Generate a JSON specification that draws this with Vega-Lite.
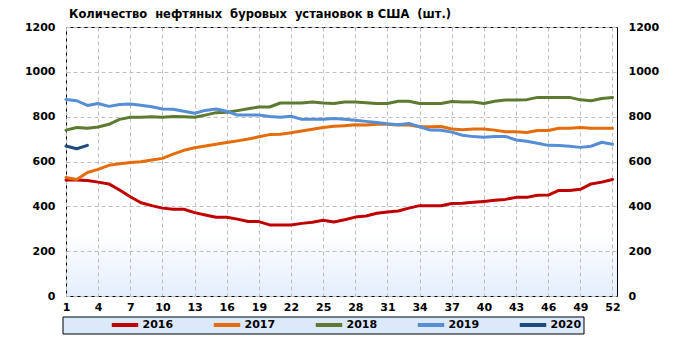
{
  "$schema": "https://vega.github.io/schema/vega-lite/v6.json",
  "width": 551,
  "height": 269,
  "autosize": {"type": "none"},
  "padding": {"left": 66, "top": 27, "right": 65, "bottom": 45},
  "background": "#ffffff",
  "title": {
    "text": "Количество \u00a0нефтяных \u00a0буровых \u00a0установок в США \u00a0(шт.)",
    "anchor": "start",
    "frame": "group",
    "dx": 3,
    "offset": 1,
    "font": "DejaVu Sans",
    "fontSize": 11.5,
    "fontWeight": "bold",
    "color": "#000000"
  },
  "config": {
    "view": {
      "stroke": "#000000",
      "strokeWidth": 1,
      "fill": {
        "gradient": "linear",
        "x1": 0, "y1": 0, "x2": 0, "y2": 1,
        "stops": [
          {"offset": 0, "color": "#ffffff"},
          {"offset": 0.76, "color": "#ffffff"},
          {"offset": 1, "color": "#e4eefc"}
        ]
      }
    },
    "axis": {
      "labelFont": "DejaVu Sans",
      "labelFontSize": 11,
      "labelFontWeight": "bold",
      "labelColor": "#000000",
      "labelOverlap": false,
      "domain": false,
      "ticks": false,
      "title": null,
      "gridColor": "#bfbfbf",
      "gridDash": [4, 3],
      "gridWidth": 1
    },
    "legend": {
      "orient": "none",
      "legendX": -3.5,
      "legendY": 289.5,
      "direction": "horizontal",
      "columns": 5,
      "padding": 2,
      "strokeColor": "#000000",
      "fillColor": "#dce9fb",
      "symbolType": "stroke",
      "symbolStrokeWidth": 4,
      "symbolSize": 700,
      "symbolOffset": 38,
      "clipHeight": 13,
      "labelFont": "DejaVu Sans",
      "labelFontSize": 11,
      "labelFontWeight": "bold",
      "labelColor": "#000000",
      "labelOffset": 2,
      "columnPadding": 0,
      "titleOrient": "left",
      "titlePadding": 7,
      "titleFont": "DejaVu Sans",
      "titleFontSize": 11,
      "titleColor": "#000000",
      "labelExpr": "datum.label == '2020' ? datum.label + '\u00a0\u00a0\u00a0\u00a0\u00a0\u00a0\u00a0\u00a0\u00a0\u00a0\u00a0\u00a0\u00a0\u00a0\u00a0\u00a0\u00a0\u00a0\u00a0\u00a0' : datum.label"
    }
  },
  "data": {
    "values": [
      {"week":1,"year":"2016","value":517},{"week":2,"year":"2016","value":517},{"week":3,"year":"2016","value":515},{"week":4,"year":"2016","value":508},{"week":5,"year":"2016","value":500},{"week":6,"year":"2016","value":473},{"week":7,"year":"2016","value":443},{"week":8,"year":"2016","value":416},{"week":9,"year":"2016","value":403},{"week":10,"year":"2016","value":392},{"week":11,"year":"2016","value":387},{"week":12,"year":"2016","value":387},{"week":13,"year":"2016","value":372},{"week":14,"year":"2016","value":361},{"week":15,"year":"2016","value":351},{"week":16,"year":"2016","value":351},{"week":17,"year":"2016","value":343},{"week":18,"year":"2016","value":332},{"week":19,"year":"2016","value":332},{"week":20,"year":"2016","value":317},{"week":21,"year":"2016","value":317},{"week":22,"year":"2016","value":317},{"week":23,"year":"2016","value":324},{"week":24,"year":"2016","value":329},{"week":25,"year":"2016","value":338},{"week":26,"year":"2016","value":330},{"week":27,"year":"2016","value":340},{"week":28,"year":"2016","value":352},{"week":29,"year":"2016","value":357},{"week":30,"year":"2016","value":369},{"week":31,"year":"2016","value":375},{"week":32,"year":"2016","value":379},{"week":33,"year":"2016","value":392},{"week":34,"year":"2016","value":403},{"week":35,"year":"2016","value":403},{"week":36,"year":"2016","value":403},{"week":37,"year":"2016","value":413},{"week":38,"year":"2016","value":414},{"week":39,"year":"2016","value":418},{"week":40,"year":"2016","value":422},{"week":41,"year":"2016","value":427},{"week":42,"year":"2016","value":431},{"week":43,"year":"2016","value":440},{"week":44,"year":"2016","value":440},{"week":45,"year":"2016","value":449},{"week":46,"year":"2016","value":450},{"week":47,"year":"2016","value":471},{"week":48,"year":"2016","value":471},{"week":49,"year":"2016","value":476},{"week":50,"year":"2016","value":500},{"week":51,"year":"2016","value":508},{"week":52,"year":"2016","value":520},
      {"week":1,"year":"2017","value":529},{"week":2,"year":"2017","value":520},{"week":3,"year":"2017","value":551},{"week":4,"year":"2017","value":565},{"week":5,"year":"2017","value":583},{"week":6,"year":"2017","value":590},{"week":7,"year":"2017","value":596},{"week":8,"year":"2017","value":599},{"week":9,"year":"2017","value":607},{"week":10,"year":"2017","value":614},{"week":11,"year":"2017","value":633},{"week":12,"year":"2017","value":650},{"week":13,"year":"2017","value":661},{"week":14,"year":"2017","value":669},{"week":15,"year":"2017","value":677},{"week":16,"year":"2017","value":685},{"week":17,"year":"2017","value":692},{"week":18,"year":"2017","value":700},{"week":19,"year":"2017","value":710},{"week":20,"year":"2017","value":720},{"week":21,"year":"2017","value":722},{"week":22,"year":"2017","value":728},{"week":23,"year":"2017","value":736},{"week":24,"year":"2017","value":744},{"week":25,"year":"2017","value":752},{"week":26,"year":"2017","value":757},{"week":27,"year":"2017","value":760},{"week":28,"year":"2017","value":764},{"week":29,"year":"2017","value":763},{"week":30,"year":"2017","value":766},{"week":31,"year":"2017","value":766},{"week":32,"year":"2017","value":763},{"week":33,"year":"2017","value":763},{"week":34,"year":"2017","value":755},{"week":35,"year":"2017","value":755},{"week":36,"year":"2017","value":756},{"week":37,"year":"2017","value":745},{"week":38,"year":"2017","value":742},{"week":39,"year":"2017","value":745},{"week":40,"year":"2017","value":745},{"week":41,"year":"2017","value":740},{"week":42,"year":"2017","value":733},{"week":43,"year":"2017","value":733},{"week":44,"year":"2017","value":729},{"week":45,"year":"2017","value":738},{"week":46,"year":"2017","value":738},{"week":47,"year":"2017","value":748},{"week":48,"year":"2017","value":748},{"week":49,"year":"2017","value":752},{"week":50,"year":"2017","value":748},{"week":51,"year":"2017","value":748},{"week":52,"year":"2017","value":748},
      {"week":1,"year":"2018","value":740},{"week":2,"year":"2018","value":752},{"week":3,"year":"2018","value":748},{"week":4,"year":"2018","value":754},{"week":5,"year":"2018","value":766},{"week":6,"year":"2018","value":788},{"week":7,"year":"2018","value":797},{"week":8,"year":"2018","value":797},{"week":9,"year":"2018","value":800},{"week":10,"year":"2018","value":797},{"week":11,"year":"2018","value":801},{"week":12,"year":"2018","value":800},{"week":13,"year":"2018","value":797},{"week":14,"year":"2018","value":807},{"week":15,"year":"2018","value":818},{"week":16,"year":"2018","value":820},{"week":17,"year":"2018","value":827},{"week":18,"year":"2018","value":835},{"week":19,"year":"2018","value":843},{"week":20,"year":"2018","value":843},{"week":21,"year":"2018","value":861},{"week":22,"year":"2018","value":861},{"week":23,"year":"2018","value":861},{"week":24,"year":"2018","value":865},{"week":25,"year":"2018","value":861},{"week":26,"year":"2018","value":859},{"week":27,"year":"2018","value":865},{"week":28,"year":"2018","value":865},{"week":29,"year":"2018","value":862},{"week":30,"year":"2018","value":859},{"week":31,"year":"2018","value":859},{"week":32,"year":"2018","value":869},{"week":33,"year":"2018","value":869},{"week":34,"year":"2018","value":859},{"week":35,"year":"2018","value":859},{"week":36,"year":"2018","value":859},{"week":37,"year":"2018","value":868},{"week":38,"year":"2018","value":865},{"week":39,"year":"2018","value":865},{"week":40,"year":"2018","value":859},{"week":41,"year":"2018","value":869},{"week":42,"year":"2018","value":874},{"week":43,"year":"2018","value":874},{"week":44,"year":"2018","value":876},{"week":45,"year":"2018","value":886},{"week":46,"year":"2018","value":886},{"week":47,"year":"2018","value":886},{"week":48,"year":"2018","value":886},{"week":49,"year":"2018","value":875},{"week":50,"year":"2018","value":871},{"week":51,"year":"2018","value":881},{"week":52,"year":"2018","value":885},
      {"week":1,"year":"2019","value":877},{"week":2,"year":"2019","value":871},{"week":3,"year":"2019","value":850},{"week":4,"year":"2019","value":859},{"week":5,"year":"2019","value":846},{"week":6,"year":"2019","value":854},{"week":7,"year":"2019","value":856},{"week":8,"year":"2019","value":851},{"week":9,"year":"2019","value":844},{"week":10,"year":"2019","value":834},{"week":11,"year":"2019","value":833},{"week":12,"year":"2019","value":824},{"week":13,"year":"2019","value":815},{"week":14,"year":"2019","value":828},{"week":15,"year":"2019","value":834},{"week":16,"year":"2019","value":824},{"week":17,"year":"2019","value":807},{"week":18,"year":"2019","value":807},{"week":19,"year":"2019","value":807},{"week":20,"year":"2019","value":801},{"week":21,"year":"2019","value":797},{"week":22,"year":"2019","value":802},{"week":23,"year":"2019","value":788},{"week":24,"year":"2019","value":788},{"week":25,"year":"2019","value":788},{"week":26,"year":"2019","value":792},{"week":27,"year":"2019","value":788},{"week":28,"year":"2019","value":784},{"week":29,"year":"2019","value":779},{"week":30,"year":"2019","value":774},{"week":31,"year":"2019","value":768},{"week":32,"year":"2019","value":764},{"week":33,"year":"2019","value":770},{"week":34,"year":"2019","value":755},{"week":35,"year":"2019","value":740},{"week":36,"year":"2019","value":739},{"week":37,"year":"2019","value":731},{"week":38,"year":"2019","value":717},{"week":39,"year":"2019","value":711},{"week":40,"year":"2019","value":708},{"week":41,"year":"2019","value":712},{"week":42,"year":"2019","value":712},{"week":43,"year":"2019","value":696},{"week":44,"year":"2019","value":690},{"week":45,"year":"2019","value":681},{"week":46,"year":"2019","value":672},{"week":47,"year":"2019","value":671},{"week":48,"year":"2019","value":668},{"week":49,"year":"2019","value":663},{"week":50,"year":"2019","value":668},{"week":51,"year":"2019","value":686},{"week":52,"year":"2019","value":677},
      {"week":1,"year":"2020","value":669},{"week":2,"year":"2020","value":657},{"week":3,"year":"2020","value":672}
    ]
  },
  "encoding": {
    "x": {
      "field": "week", "type": "quantitative",
      "scale": {"domain": [1, 52.42], "nice": false, "zero": false},
      "axis": {"values": [1,4,7,10,13,16,19,22,25,28,31,34,37,40,43,46,49,52], "grid": true, "labelPadding": 5, "labelFlush": false, "labelOverlap": false, "labelBound": false}
    },
    "color": {
      "field": "year", "type": "nominal",
      "scale": {"domain": ["2016","2017","2018","2019","2020"], "range": ["#c00000","#e46c0a","#5e7a30","#558ed5","#1f497d"]},
      "legend": {"title": "\u00a0"}
    }
  },
  "layer": [
    {
      "transform": [{"filter": "datum.year != '2020'"}],
      "mark": {"type": "line", "strokeWidth": 3, "strokeJoin": "round", "strokeCap": "round"},
      "encoding": {
        "y": {
          "field": "value", "type": "quantitative",
          "scale": {"domain": [0, 1200], "nice": false},
          "axis": {"orient": "left", "values": [0,200,400,600,800,1000,1200], "format": "d", "grid": true, "labelPadding": 11}
        }
      }
    },
    {
      "transform": [{"filter": "datum.year == '2020'"}],
      "mark": {"type": "line", "strokeWidth": 3, "strokeJoin": "round", "strokeCap": "round"},
      "encoding": {
        "y": {
          "field": "value", "type": "quantitative",
          "scale": {"domain": [0, 1200], "nice": false},
          "axis": {"orient": "right", "values": [0,200,400,600,800,1000,1200], "format": "d", "grid": false, "labelPadding": 11}
        }
      }
    }
  ],
  "resolve": {"scale": {"y": "independent"}}
}
